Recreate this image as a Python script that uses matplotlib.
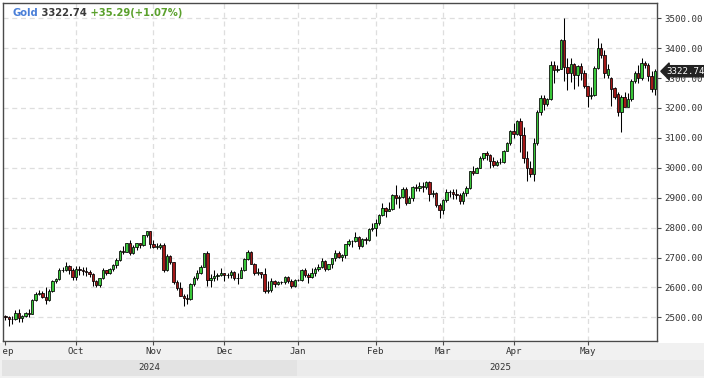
import matplotlib
matplotlib.use("Agg")
import matplotlib.pyplot as plt
import matplotlib.transforms as mtransforms
from matplotlib.patches import Rectangle
import numpy as np
import pandas as pd

# -- Data: daily gold candles, Sep 2 2024 .. May 29 2025 (weekdays) ---------
dates = pd.bdate_range("2024-09-02", "2025-05-29")

opens = [
    # Sep
    2503, 2500, 2493, 2495, 2516, 2497, 2506, 2516, 2512, 2558, 2578, 2582, 2569, 2559, 2587, 2622, 2628, 2657, 2657, 2672, 2658,
    # Oct
    2634, 2663, 2657, 2656, 2653, 2644, 2622, 2608, 2630, 2657, 2649, 2662, 2674, 2693, 2722, 2720, 2748, 2715, 2736, 2747, 2743, 2774, 2788,
    # Nov
    2744, 2736, 2736, 2743, 2659, 2706, 2685, 2619, 2598, 2573, 2565, 2563, 2612, 2631, 2650, 2670, 2715, 2625, 2632, 2637, 2640,
    # Dec
    2650, 2640, 2643, 2651, 2632, 2633, 2660, 2694, 2718, 2680, 2648, 2652, 2646, 2587, 2593, 2622, 2612, 2617, 2617, 2634, 2621, 2606,
    # Jan
    2624, 2625, 2658, 2640, 2636, 2648, 2662, 2670, 2690, 2662, 2677, 2697, 2714, 2702, 2708, 2744, 2755, 2754, 2770, 2740, 2763, 2760, 2794,
    # Feb
    2798, 2815, 2842, 2867, 2856, 2861, 2908, 2898, 2904, 2928, 2883, 2898, 2935, 2934, 2939, 2936, 2952, 2914, 2916, 2876,
    # Mar
    2858, 2893, 2918, 2919, 2911, 2910, 2889, 2916, 2934, 2988, 2984, 3001, 3034, 3048, 3044, 3023, 3011, 3020, 3019, 3057, 3084,
    # Apr
    3124, 3113, 3158, 3110, 3033, 2998, 2980, 3082, 3188, 3235, 3212, 3230, 3345, 3326, 3331, 3428, 3337, 3318, 3347, 3310, 3340, 3318,
    # May
    3272, 3240, 3242, 3333, 3400, 3378, 3310, 3300, 3268, 3248, 3185, 3238, 3203, 3230, 3291, 3318, 3300, 3352, 3343, 3308, 3262,
]
highs = [
    2507, 2503, 2504, 2523, 2529, 2507, 2518, 2529, 2560, 2586, 2590, 2589, 2600, 2594, 2625, 2631, 2664, 2670, 2685, 2675, 2666,
    2673, 2672, 2668, 2670, 2658, 2647, 2624, 2633, 2665, 2660, 2666, 2677, 2697, 2725, 2740, 2749, 2758, 2742, 2750, 2750, 2775, 2790, 2790,
    2758, 2750, 2750, 2748, 2711, 2710, 2686, 2626, 2618, 2578, 2578, 2615, 2639, 2657, 2674, 2716, 2721, 2644, 2659, 2647, 2665,
    2650, 2650, 2658, 2655, 2648, 2669, 2697, 2726, 2722, 2682, 2664, 2653, 2664, 2622, 2632, 2624, 2620, 2622, 2639, 2637, 2628, 2629,
    2629, 2663, 2665, 2647, 2664, 2670, 2677, 2698, 2693, 2679, 2700, 2724, 2722, 2711, 2746, 2763, 2758, 2785, 2772, 2765, 2770, 2800, 2817,
    2830, 2845, 2882, 2870, 2886, 2911, 2942, 2910, 2936, 2935, 2905, 2938, 2947, 2954, 2954, 2957, 2956, 2927, 2920, 2882,
    2896, 2928, 2927, 2930, 2930, 2915, 2922, 2940, 2990, 3005, 3002, 3038, 3050, 3057, 3047, 3036, 3026, 3033, 3060, 3087, 3128,
    3149, 3160, 3167, 3136, 3055, 3023, 3099, 3194, 3245, 3245, 3234, 3357, 3358, 3345, 3430, 3500, 3367, 3367, 3352, 3345, 3350, 3328,
    3275, 3269, 3340, 3435, 3416, 3395, 3346, 3305, 3270, 3252, 3245, 3252, 3250, 3296, 3325, 3345, 3366, 3356, 3350, 3325, 3330,
]
lows = [
    2490, 2472, 2478, 2490, 2486, 2485, 2500, 2500, 2510, 2556, 2576, 2566, 2546, 2554, 2584, 2614, 2625, 2651, 2655, 2645, 2625,
    2624, 2643, 2642, 2637, 2636, 2605, 2603, 2603, 2627, 2640, 2645, 2654, 2666, 2690, 2711, 2718, 2708, 2713, 2725, 2731, 2737, 2768, 2731,
    2733, 2730, 2729, 2652, 2655, 2677, 2611, 2590, 2570, 2537, 2546, 2559, 2604, 2625, 2644, 2668, 2605, 2602, 2620, 2626, 2637,
    2622, 2632, 2633, 2626, 2613, 2630, 2656, 2692, 2677, 2643, 2643, 2631, 2583, 2583, 2585, 2603, 2608, 2612, 2613, 2614, 2597, 2603,
    2620, 2622, 2635, 2614, 2633, 2639, 2655, 2664, 2656, 2660, 2665, 2688, 2697, 2690, 2700, 2738, 2734, 2751, 2730, 2736, 2745, 2755, 2790,
    2771, 2810, 2840, 2834, 2854, 2859, 2880, 2864, 2900, 2877, 2881, 2890, 2922, 2922, 2918, 2930, 2890, 2904, 2870, 2833,
    2845, 2885, 2903, 2897, 2895, 2880, 2880, 2906, 2930, 2976, 2982, 2998, 3025, 3027, 2999, 3004, 3006, 3012, 3015, 3055, 3077,
    3100, 3110, 3054, 3015, 2956, 2970, 2957, 3075, 3175, 3194, 3205, 3228, 3285, 3320, 3330, 3290, 3260, 3287, 3265, 3275, 3295, 3268,
    3202, 3229, 3240, 3331, 3366, 3300, 3300, 3208, 3229, 3173, 3120, 3206, 3205, 3225, 3283, 3285, 3294, 3334, 3290, 3255, 3245,
]
closes = [
    2500, 2493, 2495, 2516, 2497, 2506, 2516, 2512, 2558, 2578, 2582, 2569, 2559, 2587, 2622, 2628, 2657, 2657, 2672, 2658, 2634,
    2663, 2657, 2656, 2653, 2644, 2622, 2608, 2630, 2657, 2649, 2662, 2674, 2693, 2722, 2720, 2748, 2715, 2736, 2747, 2743, 2774, 2788, 2744,
    2736, 2736, 2743, 2659, 2706, 2685, 2619, 2598, 2573, 2565, 2563, 2612, 2631, 2650, 2670, 2715, 2625, 2632, 2637, 2640, 2650,
    2640, 2643, 2651, 2632, 2633, 2660, 2694, 2718, 2680, 2648, 2652, 2646, 2587, 2593, 2622, 2612, 2617, 2617, 2634, 2621, 2606, 2624,
    2625, 2658, 2640, 2636, 2648, 2662, 2670, 2690, 2662, 2677, 2697, 2714, 2702, 2708, 2744, 2755, 2754, 2770, 2740, 2763, 2760, 2794, 2798,
    2815, 2842, 2867, 2856, 2861, 2908, 2898, 2904, 2928, 2883, 2898, 2935, 2934, 2939, 2936, 2952, 2914, 2916, 2876, 2858,
    2893, 2918, 2919, 2911, 2910, 2889, 2916, 2934, 2988, 2984, 3001, 3034, 3048, 3044, 3023, 3011, 3020, 3019, 3057, 3084, 3124,
    3113, 3158, 3110, 3033, 2998, 2980, 3082, 3188, 3235, 3212, 3230, 3345, 3326, 3331, 3428, 3337, 3318, 3347, 3310, 3340, 3318, 3272,
    3240, 3242, 3333, 3400, 3378, 3316, 3330, 3262, 3238, 3185, 3238, 3203, 3230, 3291, 3318, 3300, 3352, 3345, 3308, 3262, 3322.74,
]

symbol = "Gold"
last_price = "3322.74"
change_text = "+35.29(+1.07%)"
price_ticks = [2500, 2600, 2700, 2800, 2900, 3000, 3100, 3200, 3300, 3400, 3500]

# -- Colours ----------------------------------------------------------------
UP = "#39c739"
DOWN = "#a31818"
GRID = "#dedede"
AXIS = "#4a4a4a"
TEXT = "#333333"

o = np.array(opens, dtype=float)
h = np.array(highs, dtype=float)
l = np.array(lows, dtype=float)
c = np.array(closes, dtype=float)
x = np.arange(len(dates))
up = c >= o

W, H = 704, 378
fig = plt.figure(figsize=(W / 100, H / 100), dpi=100, facecolor="white")
ax = fig.add_axes([3 / W, (H - 341) / H, 654 / W, 338 / H])
ax.set_xlim(-0.7, len(x) - 0.4)
ax.set_ylim(2421, 3551)

# grid
month_starts = [i for i in range(len(dates)) if i == 0 or dates[i].month != dates[i - 1].month]
for i in month_starts[1:]:
    ax.axvline(i, color=GRID, lw=0.9, ls=(0, (4, 3)), zorder=0)
for p in price_ticks:
    ax.axhline(p, color=GRID, lw=0.9, ls=(0, (4, 3)), zorder=0)

# candles
ax.vlines(x, l, h, color="black", lw=0.75, zorder=2)
body_lo = np.minimum(o, c)
body_hi = np.maximum(o, c)
heights = np.maximum(body_hi - body_lo, 1.0)
ax.bar(x[up], heights[up], bottom=body_lo[up], width=0.72, color=UP,
       edgecolor="black", linewidth=0.55, zorder=3)
ax.bar(x[~up], heights[~up], bottom=body_lo[~up], width=0.72, color=DOWN,
       edgecolor="black", linewidth=0.55, zorder=3)

# axes / ticks
for s in ax.spines.values():
    s.set_color(AXIS)
    s.set_linewidth(1.0)
ax.yaxis.tick_right()
ax.set_yticks(price_ticks)
ax.set_yticklabels([f"{p:.2f}" for p in price_ticks])
ax.tick_params(axis="y", direction="out", length=3, width=0.8, color=AXIS,
               labelsize=6.6, labelcolor=TEXT, pad=2)
for t in ax.get_yticklabels():
    t.set_family("DejaVu Sans Mono")
ax.set_xticks(month_starts)
ax.set_xticklabels([])
ax.tick_params(axis="x", direction="out", length=3, width=0.8, color=AXIS)

# bottom strip and year bands
fig.patches.append(Rectangle((0, 0), 1, (H - 343) / H, transform=fig.transFigure,
                             fc="#f1f1f1", ec="none", zorder=-5))
blend = mtransforms.blended_transform_factory(ax.transData, fig.transFigure)
first_2025 = next(i for i in range(len(dates)) if dates[i].year == 2025)
split = first_2025 - 0.5
x_left = ax.get_xlim()[0] - 0.3
x_right = len(x) + 13.5
band_y0, band_h = (H - 376) / H, 16 / H
fig.patches.append(Rectangle((x_left, band_y0), split - x_left, band_h, transform=blend,
                             fc="#e3e3e3", ec="none", zorder=-4))
fig.patches.append(Rectangle((split, band_y0), x_right - split, band_h, transform=blend,
                             fc="#ebebeb", ec="none", zorder=-4))
year_y = band_y0 + band_h / 2
fig.text(0, year_y, "2024", transform=mtransforms.offset_copy(blend, fig=fig, x=0, y=0),
         alpha=0)  # placeholder for layout
mid24 = (x_left + split) / 2
mid25 = (split + x_right) / 2
for xm, yr in [(mid24, "2024"), (mid25, "2025")]:
    fig.text(xm, year_y, yr, transform=blend, ha="center", va="center",
             fontsize=6.6, color=TEXT, family="DejaVu Sans Mono")

# month labels
clip = Rectangle((3 / W, 0), 1, 1, transform=fig.transFigure, visible=False)
fig.patches.append(clip)
for i in month_starts:
    t = fig.text(i, (H - 351) / H, dates[i].strftime("%b"), transform=blend,
                 ha="center", va="center", fontsize=6.6, color=TEXT,
                 family="DejaVu Sans Mono")
    t.set_clip_path(clip)

# title
t1 = ax.text((12.5 - 3) / 654, 1 - 10 / 338, symbol, transform=ax.transAxes,
             ha="left", va="center", fontsize=7.2, fontweight="bold", color="#4a7fd8")
t2 = ax.annotate(" " + last_price, xy=(1, 0), xycoords=t1, va="bottom", ha="left",
                 fontsize=7.2, fontweight="bold", color="#3a3a3a")
ax.annotate(" " + change_text, xy=(1, 0), xycoords=t2, va="bottom", ha="left",
            fontsize=7.2, fontweight="bold", color="#5aa02c")

# last price tag
ax.annotate(last_price, xy=(1, c[-1]), xycoords=("axes fraction", "data"),
            xytext=(7, 0), textcoords="offset points", ha="left", va="center",
            fontsize=6.6, color="white", family="DejaVu Sans Mono",
            bbox=dict(boxstyle="larrow,pad=0.12", fc="#222222", ec="#222222"),
            annotation_clip=False, zorder=10)

fig.savefig("out.png", dpi=100, facecolor=fig.get_facecolor())
